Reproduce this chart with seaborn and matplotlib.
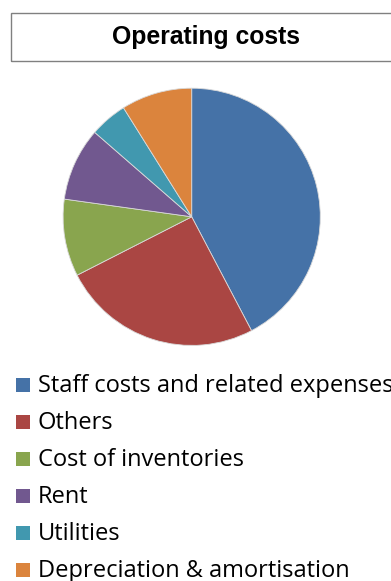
import matplotlib
matplotlib.use("Agg")
import matplotlib.pyplot as plt
from matplotlib.patches import Rectangle
import seaborn as sns

# Operating cost breakdown (% of total)
categories = [
    "Staff costs and related expenses",
    "Others",
    "Cost of inventories",
    "Rent",
    "Utilities",
    "Depreciation & amortisation",
]
shares = [42.3, 25.2, 9.7, 9.2, 4.7, 8.9]
palette_hex = ["#4572A7", "#AA4643", "#89A54E", "#71588F", "#4198AF", "#DB843D"]
title = "Operating costs"

sns.set_theme(style="white")
colors = sns.color_palette(palette_hex)

W, H = 391, 581
fig = plt.figure(figsize=(W / 100, H / 100), dpi=100)
fig.patch.set_facecolor("white")

def fx(px):
    return px / W

def fy(py):
    return 1 - py / H

# Title box
box = Rectangle((fx(11), fy(60.7)), fx(400 - 11), (60.7 - 12.7) / H,
                transform=fig.transFigure, fill=False,
                edgecolor="#808080", linewidth=1.0)
fig.patches.append(box)
fig.text(fx(206), fy(37), title, ha="center", va="center",
         fontsize=17.8, fontweight="bold", family="Liberation Sans",
         color="black")

# Pie
cx, cy, r = 191.7, 216.8, 128.6
ax = fig.add_axes([fx(cx - r), fy(cy + r), 2 * r / W, 2 * r / H])
ax.pie(shares, colors=colors, startangle=90, counterclock=False,
       wedgeprops=dict(linewidth=0.6, edgecolor="#d9d9d9"))
ax.set_xlim(-1, 1)
ax.set_ylim(-1, 1)
ax.set_aspect("auto")
ax.axis("off")

# Legend rows
row0, step = 385.3, 37.0
for i, (lab, col) in enumerate(zip(categories, colors)):
    yc = row0 + i * step
    sq = Rectangle((fx(15.7), fy(yc + 7)), 13.8 / W, 14 / H,
                   transform=fig.transFigure, facecolor=col, edgecolor="none")
    fig.patches.append(sq)
    fig.text(fx(37.5), fy(yc + 7), lab, ha="left", va="baseline",
             fontsize=17, family="Open Sans", color="black")

fig.savefig("out.png", dpi=100, facecolor="white")
